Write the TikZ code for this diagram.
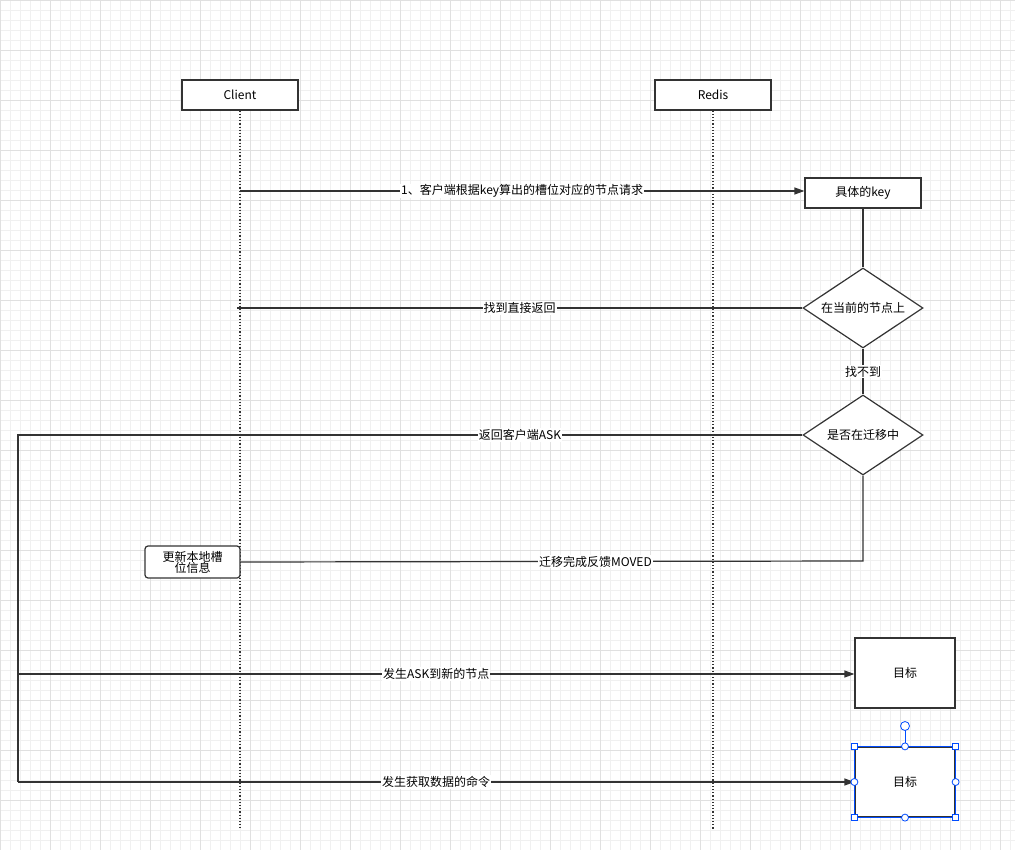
\documentclass[tikz,border=0pt]{standalone}
\usepackage{fontspec}
\setmainfont{Noto Sans CJK SC}
\usetikzlibrary{arrows.meta,shapes.geometric}
\tikzset{
  Box/.style={draw=black!80, line width=1.2pt, fill=white, minimum width=116pt, minimum height=30pt, inner sep=0pt, font=\fontsize{12}{14}\selectfont},
  Decision/.style={diamond, draw=black!80, line width=1.2pt, fill=white, minimum width=120pt, minimum height=80pt, inner sep=0pt, aspect=1.5, font=\fontsize{12}{14}\selectfont},
  Flow/.style={line width=1.2pt, draw=black!80},
  Arrow/.style={Flow, -{Triangle[length=10pt,width=7pt]}},
  Life/.style={line width=1.2pt, dotted, draw=black!80},
  Lbl/.style={fill=white, inner sep=1pt, font=\fontsize{12}{14}\selectfont},
  Handle/.style={draw=blue!70!cyan, fill=white, line width=0.8pt, inner sep=0pt, minimum size=6pt}
}
\begin{document}
\begin{tikzpicture}[x=1pt,y=-1pt]
\useasboundingbox (0,0) rectangle (1015,850);
\fill[white] (0,0) rectangle (1015,850);
\draw[black!6, step=10pt] (0,0) grid (1015,850);
\draw[black!12, step=50pt] (0,0) grid (1015,850);
% participants
\node[Box] (client) at (240,95) {Client};
\node[Box] (redis) at (713,95) {Redis};
\coordinate (cend) at (240,828);
\coordinate (rend) at (713,830);
\draw[Life] (client.south) -- (cend);
\draw[Life] (redis.south) -- (rend);
% flow
\node[Box] (key) at (863,193) {具体的key};
\node[Decision] (cur) at (863,308) {在当前的节点上};
\node[Decision] (mig) at (863,435) {是否在迁移中};
\node[Box, rounded corners=3pt, minimum width=95pt, minimum height=32pt, align=center] (upd) at (192.5,562) {更新本地槽\\[-3pt]位信息};
\node[Box, minimum width=100pt, minimum height=70pt] (t1) at (905,673) {目标};
\node[Box, minimum width=100pt, minimum height=70pt] (t2) at (905,782) {目标};
\coordinate (c1) at (240,191);
\coordinate (c2) at (237,308);
\coordinate (lt) at (18,435);
\coordinate (lb) at (18,782);
\coordinate (la) at (18,674);
\coordinate (mv) at (863,561);
\draw[Arrow] (c1) -- node[Lbl]{1、客户端根据key算出的槽位对应的节点请求} (c1 -| key.west);
\draw[Flow] (key) -- (cur);
\draw[Flow] (cur.west) -- node[Lbl]{找到直接返回} (c2);
\draw[Flow] (cur) -- node[Lbl]{找不到} (mig);
\draw[Flow] (mig.west) -- node[Lbl, pos=0.36]{返回客户端ASK} (lt) -- (lb);
\draw[Flow] (mig.south) -- (mv) -- node[Lbl, pos=0.43]{迁移完成反馈MOVED} (upd.east);
\draw[Arrow] (la) -- node[Lbl]{发生ASK到新的节点} (t1.west |- la);
\draw[Arrow] (lb) -- node[Lbl]{发生获取数据的命令} (t2.west);
% selection handles
\draw[blue!70!cyan, line width=0.8pt] (t2.north west) rectangle (t2.south east);
\coordinate (rot) at (905,726);
\draw[blue!70!cyan, line width=0.8pt] (t2.north) -- (rot);
\node[Handle, circle, minimum size=9pt] (rh) at (rot) {};
\foreach \a in {north west,north east,south west,south east}
  \node[Handle, rectangle] at (t2.\a) {};
\foreach \a in {north,south,east,west}
  \node[Handle, circle, minimum size=7pt] at (t2.\a) {};
\end{tikzpicture}
\end{document}
